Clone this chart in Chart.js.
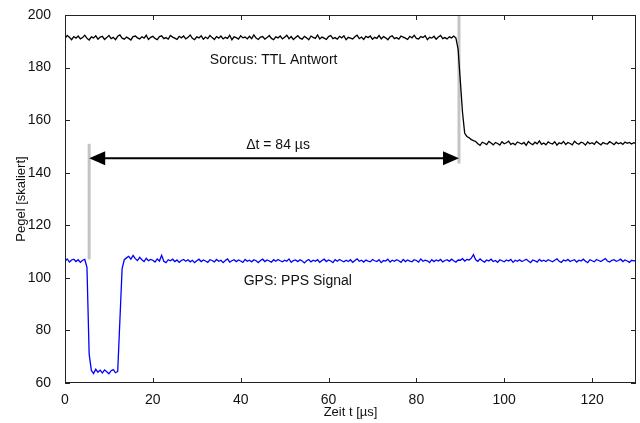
<!DOCTYPE html>
<html>
<head>
<meta charset="utf-8">
<script src="https://cdn.jsdelivr.net/npm/chart.js@4.4.1/dist/chart.umd.min.js"></script>
<style>
  html, body { margin: 0; padding: 0; background: #fff; }
  #wrap { width: 640px; height: 423px; }
</style>
</head>
<body>
<div id="wrap"><canvas id="scope"></canvas></div>
<script>
// sample times in µs
const timeUs = [
  0, 0.5, 1, 1.5, 2, 2.5, 3, 3.5, 4, 4.5, 5, 5.5, 6, 6.5, 7, 7.5, 8, 8.5, 9, 9.5,
  10, 10.5, 11, 11.5, 12, 12.5, 13, 13.5, 14, 14.5, 15, 15.5, 16, 16.5, 17, 17.5, 18, 18.5, 19, 19.5,
  20, 20.5, 21, 21.5, 22, 22.5, 23, 23.5, 24, 24.5, 25, 25.5, 26, 26.5, 27, 27.5, 28, 28.5, 29, 29.5,
  30, 30.5, 31, 31.5, 32, 32.5, 33, 33.5, 34, 34.5, 35, 35.5, 36, 36.5, 37, 37.5, 38, 38.5, 39, 39.5,
  40, 40.5, 41, 41.5, 42, 42.5, 43, 43.5, 44, 44.5, 45, 45.5, 46, 46.5, 47, 47.5, 48, 48.5, 49, 49.5,
  50, 50.5, 51, 51.5, 52, 52.5, 53, 53.5, 54, 54.5, 55, 55.5, 56, 56.5, 57, 57.5, 58, 58.5, 59, 59.5,
  60, 60.5, 61, 61.5, 62, 62.5, 63, 63.5, 64, 64.5, 65, 65.5, 66, 66.5, 67, 67.5, 68, 68.5, 69, 69.5,
  70, 70.5, 71, 71.5, 72, 72.5, 73, 73.5, 74, 74.5, 75, 75.5, 76, 76.5, 77, 77.5, 78, 78.5, 79, 79.5,
  80, 80.5, 81, 81.5, 82, 82.5, 83, 83.5, 84, 84.5, 85, 85.5, 86, 86.5, 87, 87.5, 88, 88.5, 89, 89.5,
  90, 90.5, 91, 91.5, 92, 92.5, 93, 93.5, 94, 94.5, 95, 95.5, 96, 96.5, 97, 97.5, 98, 98.5, 99, 99.5,
  100, 100.5, 101, 101.5, 102, 102.5, 103, 103.5, 104, 104.5, 105, 105.5, 106, 106.5, 107, 107.5, 108, 108.5, 109, 109.5,
  110, 110.5, 111, 111.5, 112, 112.5, 113, 113.5, 114, 114.5, 115, 115.5, 116, 116.5, 117, 117.5, 118, 118.5, 119, 119.5,
  120, 120.5, 121, 121.5, 122, 122.5, 123, 123.5, 124, 124.5, 125, 125.5, 126, 126.5, 127, 127.5, 128, 128.5, 129, 129.5,
  130
];

// Sorcus: TTL Antwort (black)
const ttlLevel = [
  191.0, 192.2, 191.5, 190.6, 191.8, 191.2, 192.0, 190.9, 191.4, 192.3,
  191.1, 190.5, 191.7, 191.3, 192.1, 190.8, 191.6, 191.9, 190.7, 191.4,
  192.2, 191.0, 191.5, 190.6, 191.9, 192.4, 191.2, 190.8, 191.6, 191.1,
  190.5, 191.8, 192.0, 191.3, 190.9, 191.7, 191.2, 192.3, 190.7, 191.5,
  191.9, 191.1, 190.6, 191.8, 192.1, 191.0, 191.4, 190.8, 192.2, 191.6,
  191.2, 190.7, 191.9, 191.3, 192.0, 190.9, 191.5, 192.4, 191.1, 190.6,
  191.7, 191.3, 192.1, 190.8, 191.6, 191.0, 192.2, 191.4, 190.7, 191.8,
  191.2, 192.0, 190.9, 191.5, 191.1, 192.3, 190.6, 191.7, 191.4, 190.8,
  192.1, 191.3, 191.6, 190.9, 191.9, 191.0, 192.4, 191.2, 190.7, 191.6,
  191.8, 190.8, 191.4, 192.2, 191.1, 190.6, 191.7, 191.3, 192.0, 190.9,
  191.5, 192.3, 191.0, 191.8, 190.7, 191.4, 192.1, 191.2, 190.8, 191.9,
  191.3, 190.6, 192.0, 191.5, 191.1, 192.4, 190.9, 191.6, 191.2, 190.7,
  191.8, 192.2, 191.0, 191.4, 190.8, 191.9, 191.3, 192.1, 190.6, 191.5,
  191.2, 190.9, 191.7, 192.3, 191.0, 191.6, 190.7, 191.9, 191.4, 192.0,
  190.8, 191.5, 191.1, 192.2, 190.9, 191.8, 191.3, 190.6, 191.7, 192.1,
  191.0, 191.4, 190.8, 192.0, 191.6, 191.2, 190.7, 191.9, 191.3, 192.3,
  191.1, 190.9, 191.8, 191.4, 192.1, 190.6, 191.5, 191.2, 191.9, 190.8,
  191.6, 192.2, 191.0, 191.4, 190.9, 191.7, 191.3, 192.0, 191.2,
  187.0, 175.0, 163.0, 155.0, 153.8, 153.3, 152.6, 152.2, 151.9,
  151.0, 150.4, 151.6, 151.2, 150.7, 151.9, 151.3, 150.6, 151.5, 151.1,
  150.5, 151.8, 151.0, 151.4, 152.0, 150.8, 151.2, 150.6, 151.7, 151.3,
  150.9, 151.5, 150.4, 151.9, 151.1, 150.7, 151.6, 151.0, 152.1, 150.8,
  151.3, 150.6, 151.7, 151.2, 150.9, 151.8, 150.5, 151.4, 151.0, 151.9,
  150.7, 151.5, 151.1, 150.6, 152.0, 151.2, 150.8, 151.6, 151.3, 150.5,
  151.7, 151.0, 151.4, 150.8, 151.9, 151.2, 150.6, 151.5, 151.1, 150.9,
  151.8, 151.3, 150.7, 151.6, 151.0, 151.4, 150.8, 151.7, 151.2, 151.5,
  150.9, 151.4, 151.1
];

// GPS: PPS Signal (blue)
const ppsLevel = [
  106.3, 107.2, 106.0, 106.8, 107.1, 106.2, 106.9, 105.9, 106.7, 107.0,
  104.0, 71.0,
  64.8, 63.6, 65.2, 64.1, 64.9, 63.8, 65.0, 64.3, 63.5, 64.7, 65.1, 63.9, 64.4,
  84.0, 103.5,
  106.9, 107.6, 108.2, 107.1, 108.5, 107.3, 106.6, 107.8, 106.9, 106.2, 107.4, 106.5, 107.0,
  106.7, 106.0, 107.2, 106.4, 108.6, 106.3, 105.8, 106.9, 106.5, 107.1,
  106.2, 106.8, 105.9, 106.6, 107.0, 106.3, 106.9, 106.1, 106.7, 105.8,
  106.5, 107.1, 106.2, 106.8, 106.4, 105.9, 106.9, 106.6, 106.1, 107.0,
  106.3, 106.7, 105.8, 106.6, 107.2, 106.0, 106.5, 106.9, 106.2, 106.8,
  106.4, 105.9, 107.0, 106.3, 106.7, 106.1, 106.9, 106.5, 105.8, 106.6,
  107.1, 106.2, 106.8, 106.4, 106.0, 106.9, 106.3, 107.0, 106.5, 106.1,
  106.7, 106.3, 107.2, 105.9, 106.6, 106.8, 106.2, 106.9, 106.4, 105.7,
  106.5, 107.0, 106.1, 106.7, 106.3, 106.9, 105.9, 106.6, 107.1, 106.2,
  106.8, 106.4, 105.8, 106.9, 106.3, 107.0, 106.5, 106.1, 106.7, 106.2,
  106.9, 105.9, 106.6, 107.2, 106.3, 106.7, 106.0, 106.8, 106.4, 106.1,
  107.0, 106.5, 106.2, 106.9, 105.8, 106.6, 106.4, 107.1, 106.0, 106.7,
  106.3, 106.9, 106.5, 105.9, 107.0, 106.2, 106.8, 106.4, 106.1, 106.9,
  106.6, 106.0, 107.2, 106.3, 106.7, 106.5, 105.8, 106.9, 106.2, 106.8,
  106.4, 107.0, 106.1, 106.6, 106.9, 106.3, 107.1, 106.5, 106.0, 106.8,
  106.7, 107.3, 106.4, 107.0, 106.8, 107.5, 108.8, 106.9, 106.3, 107.2,
  106.5, 106.0, 106.8, 106.4, 107.1, 106.2, 106.6, 105.9, 106.9, 106.5,
  106.1, 106.8, 106.4, 107.0, 105.9, 106.7, 106.3, 106.9, 106.2, 106.6,
  107.1, 106.4, 105.8, 106.8, 106.5, 106.0, 107.0, 106.3, 106.7, 106.2,
  106.9, 106.5, 106.1, 106.7, 107.2, 106.3, 105.9, 106.8, 106.4, 107.0,
  106.2, 106.6, 106.9, 106.0, 106.7, 106.4, 107.1, 106.3, 105.8, 106.9,
  106.5, 106.1, 107.0, 106.6, 106.2, 106.8, 107.3, 106.4, 106.0, 106.7,
  106.9, 106.3, 106.6, 107.1, 106.2, 106.8, 106.4, 105.9, 106.7, 106.5,
  106.6
];

// gray edge markers and the Δt arrow
const markerTimes = [5.5, 89.7];
const markerLow = [107, 143.5];
const markerHigh = [151, 200];
const arrowLevel = 145.5;

const yTicks = [60, 80, 100, 120, 140, 160, 180, 200];
const xTicks = [0, 20, 40, 60, 80, 100, 120];

const notes = [
  { text: 'Sorcus: TTL Antwort', t: 47.5, v: 182.8 },
  { text: 'Δt = 84 µs', t: 48.5, v: 150.3 },
  { text: 'GPS: PPS Signal', t: 53, v: 98.9 }
];

const FONT = "'Liberation Sans', Arial, sans-serif";

const toPoints = (xs, ys) => xs.map((x, i) => ({ x: x, y: ys[i] }));

const markerSets = markerTimes.map((t, i) => ({
  data: [{ x: t, y: markerLow[i] }, { x: t, y: markerHigh[i] }],
  borderColor: '#c4c4c4',
  borderWidth: 3,
  pointRadius: 0,
  order: 5
}));

// frame, inward ticks, arrow and text notes
const scopeDecor = {
  id: 'scopeDecor',
  afterDatasetsDraw(chart) {
    const { ctx, chartArea: a, scales: { x, y } } = chart;
    ctx.save();

    // arrow
    const ay = y.getPixelForValue(arrowLevel);
    const x1 = x.getPixelForValue(markerTimes[0]);
    const x2 = x.getPixelForValue(markerTimes[1]);
    const hl = 16, hw = 7;
    ctx.strokeStyle = '#000';
    ctx.fillStyle = '#000';
    ctx.lineWidth = 2;
    ctx.beginPath();
    ctx.moveTo(x1 + hl - 2, ay);
    ctx.lineTo(x2 - hl + 2, ay);
    ctx.stroke();
    ctx.beginPath();
    ctx.moveTo(x1, ay);
    ctx.lineTo(x1 + hl, ay - hw);
    ctx.lineTo(x1 + hl, ay + hw);
    ctx.closePath();
    ctx.fill();
    ctx.beginPath();
    ctx.moveTo(x2, ay);
    ctx.lineTo(x2 - hl, ay - hw);
    ctx.lineTo(x2 - hl, ay + hw);
    ctx.closePath();
    ctx.fill();

    // text notes
    ctx.font = '14px ' + FONT;
    ctx.fillStyle = '#111';
    ctx.textAlign = 'center';
    ctx.textBaseline = 'middle';
    notes.forEach(n => {
      ctx.fillText(n.text, x.getPixelForValue(n.t), y.getPixelForValue(n.v));
    });

    // box and inward ticks
    ctx.strokeStyle = '#222';
    ctx.lineWidth = 1;
    ctx.strokeRect(a.left + 0.5, a.top + 0.5, a.width - 1, a.height - 1);
    const tl = 5;
    ctx.beginPath();
    yTicks.forEach(v => {
      const py = Math.round(y.getPixelForValue(v)) + 0.5;
      ctx.moveTo(a.left, py); ctx.lineTo(a.left + tl, py);
      ctx.moveTo(a.right, py); ctx.lineTo(a.right - tl, py);
    });
    xTicks.forEach(v => {
      const px = Math.round(x.getPixelForValue(v)) + 0.5;
      ctx.moveTo(px, a.bottom); ctx.lineTo(px, a.bottom - tl);
      ctx.moveTo(px, a.top); ctx.lineTo(px, a.top + tl);
    });
    ctx.stroke();
    ctx.restore();
  }
};

new Chart(document.getElementById('scope'), {
  type: 'line',
  data: {
    datasets: [
      {
        label: 'Sorcus: TTL Antwort',
        data: toPoints(timeUs, ttlLevel),
        borderColor: '#000',
        borderWidth: 1.3,
        pointRadius: 0,
        order: 1
      },
      {
        label: 'GPS: PPS Signal',
        data: toPoints(timeUs, ppsLevel),
        borderColor: '#0000ff',
        borderWidth: 1.3,
        pointRadius: 0,
        order: 2
      },
      ...markerSets
    ]
  },
  options: {
    responsive: true,
    maintainAspectRatio: false,
    animation: false,
    layout: { padding: { left: 0, right: 4, top: 15, bottom: 0 } },
    plugins: {
      legend: { display: false },
      tooltip: { enabled: false }
    },
    scales: {
      x: {
        type: 'linear',
        min: 0,
        max: 130,
        grid: { display: false },
        border: { display: false },
        afterBuildTicks: s => { s.ticks = xTicks.map(v => ({ value: v })); },
        afterFit: s => { s.height = 40; },
        ticks: { color: '#111', font: { family: FONT, size: 14 }, padding: 1, maxRotation: 0 },
        title: {
          display: true,
          text: 'Zeit t [µs]',
          color: '#111',
          font: { family: FONT, size: 13 },
          padding: { top: 0, bottom: 3 }
        }
      },
      y: {
        min: 60,
        max: 200,
        grid: { display: false },
        border: { display: false },
        afterBuildTicks: s => { s.ticks = yTicks.map(v => ({ value: v })); },
        afterFit: s => { s.width = 65; },
        ticks: { color: '#111', font: { family: FONT, size: 14 }, padding: 6 },
        title: {
          display: true,
          text: 'Pegel [skaliert]',
          color: '#111',
          font: { family: FONT, size: 13 },
          padding: { top: 14, bottom: 0 }
        }
      }
    }
  },
  plugins: [scopeDecor]
});
</script>
</body>
</html>
